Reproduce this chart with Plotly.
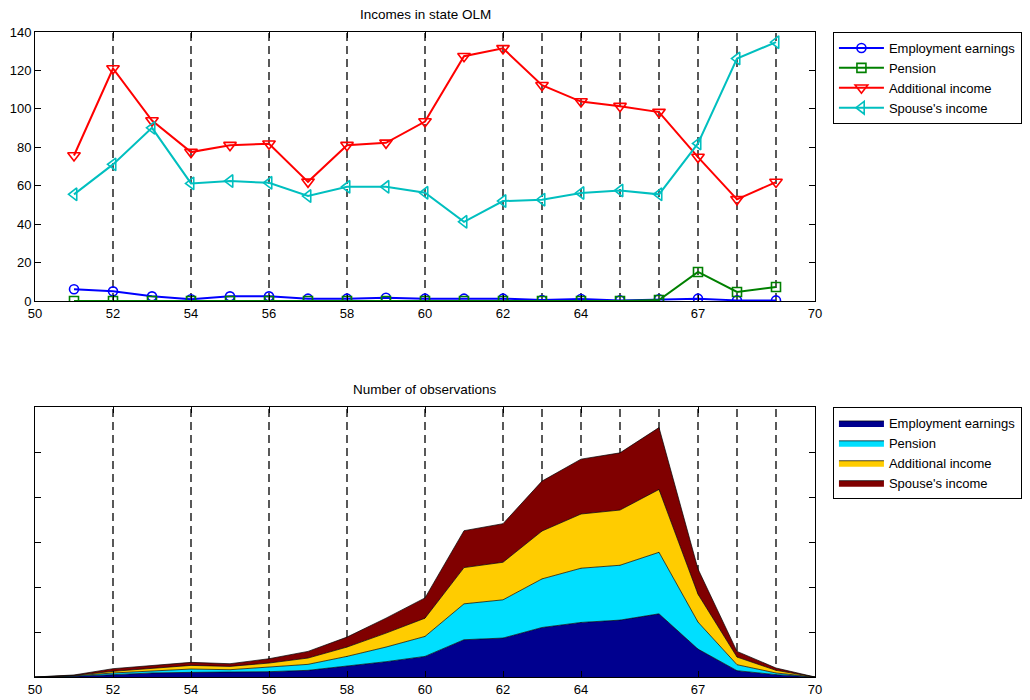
import plotly.graph_objects as go

# ---------------- data ----------------
ages_top = [51, 52, 53, 54, 55, 56, 57, 58, 59, 60, 61, 62, 63, 64, 65, 66, 67, 68, 69]
employment = [6.1, 5.0, 2.4, 0.9, 2.4, 2.4, 1.2, 1.2, 1.7, 1.2, 1.2, 1.2, 0.5, 1.0, 0.3, 0.9, 1.2, 0.3, 0.3]
pension = [0, 0, 0, 0, 0, 0, 0, 0, 0, 0, 0, 0, 0, 0, 0, 0.5, 15.1, 4.7, 7.3]
additional = [75.7, 121.0, 93.9, 77.5, 81.1, 81.8, 62.0, 81.1, 82.3, 93.4, 127.4, 131.5, 112.3, 103.8, 101.4, 98.3, 74.9, 52.9, 61.9]
spouse = [55.5, 71.1, 90.1, 61.2, 62.4, 61.5, 54.6, 59.4, 59.4, 56.3, 41.2, 52.0, 52.7, 56.2, 57.5, 55.5, 82.0, 126.2, 134.7]

ages_bottom = list(range(50, 71))
obs_employment = [0, 1.5, 5.2, 8.9, 10.3, 10.3, 11.8, 14.8, 24.4, 34.0, 45.8, 82.8, 86.5, 110.0, 121.2, 126.4, 140.4, 62.0, 14.0, 5.2, 0]
obs_pension = [0, 1.0, 3.7, 5.2, 7.4, 5.9, 9.6, 13.3, 21.4, 32.5, 44.3, 79.8, 85.0, 108.0, 120.5, 121.9, 136.7, 60.0, 13.3, 3.7, 0]
obs_additional = [0, 1.0, 3.7, 5.9, 8.1, 7.4, 9.6, 14.0, 20.7, 31.0, 40.6, 80.5, 83.5, 106.4, 120.5, 122.7, 139.7, 62.0, 17.0, 5.9, 0]
obs_spouse = [0, 1.0, 5.9, 5.9, 6.7, 5.9, 9.6, 14.8, 22.2, 33.3, 45.1, 82.0, 85.7, 110.9, 121.9, 127.1, 137.5, 56.0, 12.6, 5.2, 0]

series_names = ["Employment earnings", "Pension", "Additional income", "Spouse's income"]
x_tickvals = [50, 52, 54, 56, 58, 60, 62, 64, 67, 70]
dashed_x = [52, 54, 56, 58, 60, 62, 63, 64, 65, 66, 67, 68, 69]
top_title = "Incomes in state OLM"
bottom_title = "Number of observations"

# ---------------- figure ----------------
fig = go.Figure()

line_colors = ["#0000ff", "#008000", "#ff0000", "#00bfbf"]
symbols = ["circle-open", "square-open", "triangle-down-open", "triangle-left-open"]
sizes = [9, 9, 11, 11]
for name, vals, c, s, sz in zip(series_names, [employment, pension, additional, spouse],
                                line_colors, symbols, sizes):
    fig.add_trace(go.Scatter(
        x=ages_top, y=vals, name=name, mode="lines+markers",
        line=dict(color=c, width=2),
        marker=dict(symbol=s, size=sz, color=c, line=dict(color=c, width=1.6)),
        xaxis="x", yaxis="y", legend="legend"))

fill_colors = ["#00008f", "#00dfff", "#ffcc00", "#800000"]
for name, vals, c in zip(series_names, [obs_employment, obs_pension, obs_additional, obs_spouse], fill_colors):
    fig.add_trace(go.Scatter(
        x=ages_bottom, y=vals, name=name, mode="lines", stackgroup="one",
        line=dict(color="black", width=0.7), fillcolor=c,
        xaxis="x2", yaxis="y2", legend="legend2"))

shapes = []
for xv in dashed_x:
    for xr, yr in (("x", "y domain"), ("x2", "y2 domain")):
        shapes.append(dict(type="line", xref=xr, yref=yr, x0=xv, x1=xv, y0=0, y1=1,
                           line=dict(color="black", width=1.3, dash="8px,5px"), layer="below"))

axis_common = dict(showline=True, linecolor="black", linewidth=1, mirror="allticks",
                   ticks="inside", ticklen=6, tickcolor="black", tickwidth=1,
                   showgrid=False, zeroline=False, automargin=False,
                   tickfont=dict(family="Arial", size=13, color="black"))

fig.update_layout(
    width=1030, height=700,
    margin=dict(l=27, r=223, t=24, b=31, autoexpand=False),
    paper_bgcolor="white", plot_bgcolor="white",
    font=dict(family="Arial", size=13, color="black"),
    shapes=shapes,
    xaxis=dict(domain=[0, 1], range=[50, 70], tickvals=x_tickvals, anchor="y", **axis_common),
    yaxis=dict(domain=[0.583, 1], range=[0, 140], dtick=20, anchor="x", **axis_common),
    xaxis2=dict(domain=[0, 1], range=[50, 70], tickvals=x_tickvals, anchor="y2", **axis_common),
    yaxis2=dict(domain=[0, 0.4186], range=[0, 600], dtick=100, showticklabels=False, anchor="x2", **axis_common),
    legend=dict(x=1.023, y=1, xanchor="left", yanchor="top", bordercolor="black", borderwidth=1,
                bgcolor="white", font=dict(size=13), itemwidth=45, tracegroupgap=0),
    legend2=dict(x=1.023, y=0.4186, xanchor="left", yanchor="top", bordercolor="black", borderwidth=1,
                 bgcolor="white", font=dict(size=13), itemwidth=45, traceorder="normal"),
    annotations=[
        dict(text=top_title, xref="paper", yref="paper", x=0.5, y=1.027, xanchor="center",
             yanchor="middle", showarrow=False, font=dict(size=13.5)),
        dict(text=bottom_title, xref="paper", yref="paper", x=0.5, y=0.4454, xanchor="center",
             yanchor="middle", showarrow=False, font=dict(size=13.5)),
    ],
    showlegend=True,
)

fig.write_html("out.html")
